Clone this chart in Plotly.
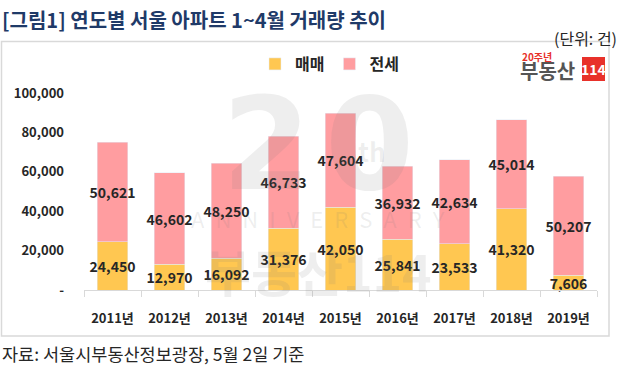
import plotly.graph_objects as go

years = ["2011년", "2012년", "2013년", "2014년", "2015년", "2016년", "2017년", "2018년", "2019년"]
sale = [24450, 12970, 16092, 31376, 42050, 25841, 23533, 41320, 7606]
jeonse = [50621, 46602, 48250, 46733, 47604, 36932, 42634, 45014, 50207]
ytick_vals = [0, 20000, 40000, 60000, 80000, 100000]
ytick_text = ["-", "20,000", "40,000", "60,000", "80,000", "100,000"]

FONT = "Noto Sans CJK KR"
C_SALE = "#FFC751"
C_JEON = "#FF9DA0"
TXT = "#262626"

# plot area in pixels
L, R, T, B = 84, 597, 93, 290
W, H = 642, 365
pw, ph = R - L, B - T

def px(x):
    return (x - L) / pw

def py(y):
    return (B - y) / ph

fig = go.Figure()
for name, vals, col in [("매매", sale, C_SALE), ("전세", jeonse, C_JEON)]:
    fig.add_trace(go.Bar(
        x=years, y=vals, name=name, marker_color=col, width=0.53,
        text=[f"{v:,}" for v in vals], textposition="inside", insidetextanchor="middle",
        textangle=0,
        textfont=dict(family=FONT, size=14, color=TXT, weight="bold"),
        constraintext="none", cliponaxis=False,
    ))

fig.update_layout(
    barmode="stack",
    width=W, height=H,
    margin=dict(l=L, r=W - R, t=T, b=H - B, pad=0, autoexpand=False),
    paper_bgcolor="white", plot_bgcolor="white",
    font=dict(family=FONT, color=TXT),
    uniformtext=dict(minsize=8, mode="show"),
    legend=dict(orientation="h", x=px(255), y=py(64), xanchor="left", yanchor="middle",
                font=dict(family=FONT, size=16, color=TXT, weight="bold"), itemwidth=30,
                traceorder="normal", bgcolor="rgba(0,0,0,0)"),
    xaxis=dict(type="category", tickson="boundaries", ticks="outside", ticklen=6,
               tickcolor="#d9d9d9", showline=True, linecolor="#d9d9d9", linewidth=1,
               showgrid=False, tickfont=dict(family=FONT, size=13, color=TXT, weight="bold"),
               ticklabelstandoff=16,
               range=[-0.5, 8.5], fixedrange=True, automargin=False),
    yaxis=dict(range=[0, 100000], tickvals=ytick_vals, ticktext=ytick_text,
               showgrid=False, zeroline=False, showline=False, ticks="",
               ticklabelstandoff=19, automargin=False,
               tickfont=dict(family=FONT, size=13, color=TXT, weight="bold"), fixedrange=True),
    bargap=0.47,
)

# frame
fig.add_shape(type="rect", xref="paper", yref="paper",
              x0=px(1.5), x1=px(609), y0=py(336), y1=py(41.5),
              line=dict(color="#d9d9d9", width=1.5), fillcolor="rgba(0,0,0,0)", layer="below")
fig.add_shape(type="rect", xref="paper", yref="paper",
              x0=px(582), x1=px(605), y0=py(81), y1=py(57),
              line=dict(width=0), fillcolor="#e8312a", layer="below")

def ann(text, x, y, size, color, xanchor="left", family=FONT, **kw):
    return dict(text=text, x=px(x), y=py(y), xref="paper", yref="paper",
                xanchor=xanchor, yanchor="middle", showarrow=False,
                font=dict(family=family, size=size, color=color), **kw)

anns = [
    ann("<b>[그림1] 연도별 서울 아파트 1~4월 거래량 추이</b>", 0, 19, 20, "#1f3a68"),
    ann("(단위: 건)", 619, 38, 16, TXT, xanchor="right"),
    ann("자료: 서울시부동산정보광장, 5월 2일 기준", 0, 353, 17.5, TXT),
    ann("<b>20주년</b>", 520, 56, 10, "#e8312a"),
    ann("<b>부동산</b>", 518, 70, 20, "#555555"),
    ann("<b>114</b>", 593.5, 69, 14, "white", xanchor="center"),
]
WM = "rgba(120,120,120,0.13)"
anns += [
    ann("<b>2</b>", 266, 144, 128, WM, xanchor="center", family="DejaVu Sans"),
    ann("<b>0</b>", 369, 144, 128, WM, xanchor="center", family="DejaVu Sans"),
    ann("<b>th</b>", 372, 150, 26, WM, xanchor="center"),
    ann("A\u2002N\u2002N\u2002I\u2002V\u2002E\u2002R\u2002S\u2002A\u2002R\u2002Y",
        318, 218, 22, WM, xanchor="center"),
    ann("<b>부동산114</b>", 318, 270, 50, WM, xanchor="center"),
]
fig.update_layout(annotations=anns)

fig.write_html("out.html", config={"displayModeBar": False},
               post_script="document.body.style.margin='0';document.body.style.padding='0';")
